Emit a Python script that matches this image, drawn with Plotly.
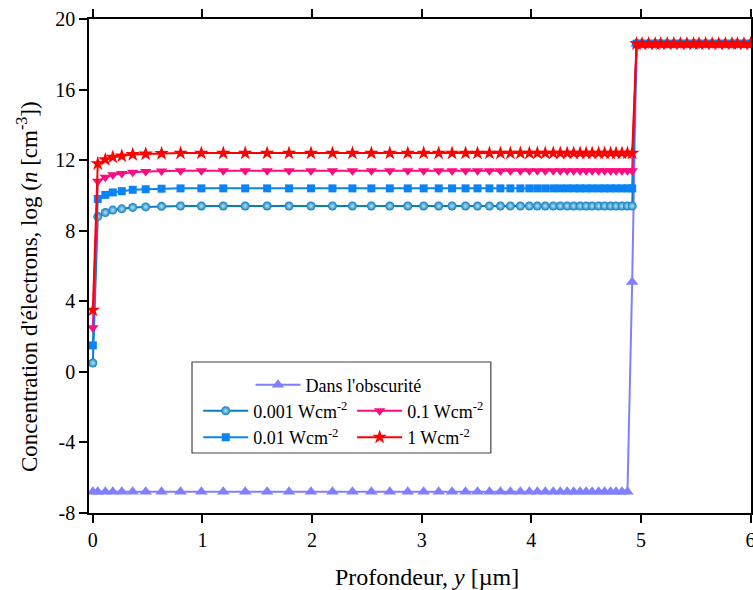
import plotly.graph_objects as go

# Depth grid (µm)
x_depth = [0, 0.045, 0.114, 0.182, 0.264, 0.364, 0.482, 0.627, 0.80, 0.99,
           1.19, 1.39, 1.59, 1.79, 1.99, 2.186, 2.368, 2.541, 2.709, 2.873,
           3.018, 3.155, 3.277, 3.40, 3.509, 3.618, 3.718, 3.809, 3.90, 3.982,
           4.055, 4.127, 4.20, 4.264, 4.327, 4.386, 4.445, 4.50, 4.555, 4.614,
           4.668, 4.723, 4.773, 4.827, 4.877, 4.92,
           4.96, 5.01, 5.07, 5.13, 5.18, 5.24, 5.30, 5.36, 5.42, 5.48,
           5.53, 5.59, 5.65, 5.71, 5.77, 5.83, 5.88, 5.94, 6.00]

n_plateau = 38   # points on the flat part of the illuminated curves (left region)
n_right = 19     # points in the right region

y_dark = [-6.8] * 45 + [5.1] + [18.6] * n_right
y_0001 = [0.5, 8.8, 9.03, 9.17, 9.24, 9.32, 9.35, 9.38] + [9.4] * n_plateau + [18.6] * n_right
y_001 = [1.5, 9.8, 10.03, 10.17, 10.24, 10.32, 10.35, 10.38] + [10.4] * n_plateau + [18.6] * n_right
y_01 = [2.5, 10.8, 11.03, 11.17, 11.24, 11.32, 11.35, 11.38] + [11.4] * n_plateau + [18.6] * n_right
y_1 = [3.5, 11.8, 12.03, 12.17, 12.24, 12.32, 12.35, 12.38] + [12.4] * n_plateau + [18.6] * n_right

names = ["Dans l'obscurité", "0.001 Wcm<sup>-2</sup>", "0.01 Wcm<sup>-2</sup>",
         "0.1 Wcm<sup>-2</sup>", "1 Wcm<sup>-2</sup>"]

x_ticks = [0, 1, 2, 3, 4, 5, 6]
y_ticks = [-8, -4, 0, 4, 8, 12, 16, 20]
y_ticktext = ["-8", "-4", "0", "4", "8", "12", "16", "20"]

x_title = "Profondeur, <i>y</i> [µm]"
y_title = "Concentration d'électrons, log (<i>n</i> [cm<sup>-3</sup>])"

FONT = "Liberation Serif"

fig = go.Figure()
fig.add_trace(go.Scatter(x=x_depth, y=y_dark, name=names[0], mode="lines+markers",
                         line=dict(color="#8080FF", width=2),
                         marker=dict(symbol="triangle-up", size=11, color="#8080FF"),
                         legend="legend", showlegend=True))
fig.add_trace(go.Scatter(x=x_depth, y=y_0001, name=names[1], mode="lines+markers",
                         line=dict(color="#0A7EC0", width=2),
                         marker=dict(symbol="circle", size=9, color="#0A7EC0",
                                     gradient=dict(type="radial", color="#BDE3F5")),
                         legend="legend2", showlegend=True))
fig.add_trace(go.Scatter(x=x_depth, y=y_001, name=names[2], mode="lines+markers",
                         line=dict(color="#0A84F5", width=2),
                         marker=dict(symbol="square", size=8, color="#0A84F5"),
                         legend="legend2", showlegend=True))
fig.add_trace(go.Scatter(x=x_depth, y=y_01, name=names[3], mode="lines+markers",
                         line=dict(color="#FF0A80", width=2),
                         marker=dict(symbol="triangle-down", size=10, color="#FF0A80"),
                         legend="legend3", showlegend=True))
fig.add_trace(go.Scatter(x=x_depth, y=y_1, name=names[4], mode="lines+markers",
                         line=dict(color="#FF0000", width=2),
                         marker=dict(symbol="star", size=11, color="#FF0000"),
                         legend="legend3", showlegend=True))

axis_common = dict(showline=True, linecolor="black", linewidth=1.5, mirror="ticks",
                   ticks="outside", ticklen=8, tickwidth=1.5, tickcolor="black",
                   showgrid=False, zeroline=False, automargin=False,
                   ticklabeloverflow="allow",
                   tickfont=dict(family=FONT, size=20, color="black"))

fig.update_xaxes(range=[-0.035, 6.004], tickvals=x_ticks, **axis_common)
fig.update_yaxes(range=[-8, 20], tickvals=y_ticks, ticktext=y_ticktext, **axis_common)

leg_font = dict(family=FONT, size=18, color="black")
fig.update_layout(
    width=753, height=590,
    margin=dict(l=89, r=2, t=19, b=77),
    showlegend=True,
    plot_bgcolor="white", paper_bgcolor="white",
    font=dict(family=FONT, size=18, color="black"),
    legend=dict(x=0.244, y=0.259, xanchor="left", yanchor="middle", itemwidth=45,
                bgcolor="rgba(0,0,0,0)", font=leg_font, visible=True),
    legend2=dict(x=0.165, y=0.18, xanchor="left", yanchor="middle", itemwidth=45,
                 bgcolor="rgba(0,0,0,0)", font=leg_font, tracegroupgap=0, visible=True),
    legend3=dict(x=0.3975, y=0.18, xanchor="left", yanchor="middle", itemwidth=45,
                 bgcolor="rgba(0,0,0,0)", font=leg_font, tracegroupgap=0, visible=True),
    shapes=[dict(type="rect", xref="paper", yref="paper",
                 x0=0.1556, x1=0.607, y0=0.1215, y1=0.3057,
                 line=dict(color="#444444", width=1.2), fillcolor="white", layer="below")],
    annotations=[
        dict(text=x_title, xref="paper", yref="paper", x=0.511, y=-0.1296,
             xanchor="center", yanchor="middle", showarrow=False,
             font=dict(family=FONT, size=24, color="black")),
        dict(text=y_title, xref="paper", yref="paper", x=-0.092, y=0.4575,
             xanchor="center", yanchor="middle", textangle=-90, showarrow=False,
             font=dict(family=FONT, size=23, color="black")),
    ],
)

fig.write_html("out.html", config={"displayModeBar": False},
               post_script="document.body.style.margin='0';document.body.style.overflow='hidden';")
